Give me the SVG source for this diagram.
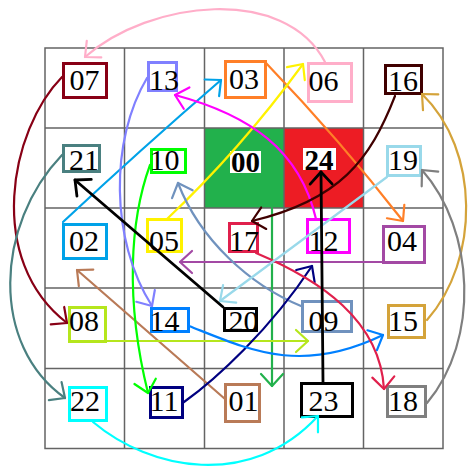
<svg xmlns="http://www.w3.org/2000/svg" width="469" height="468" viewBox="0 0 469 468">
<style>
.grid{stroke:#646464;stroke-width:1.5;fill:none}
.box{fill:none;stroke-width:3}
.lbl{font-family:"Liberation Serif","Times New Roman",serif;font-size:30px;text-anchor:middle;fill:#000}
.bold{font-weight:bold;font-size:29px}
.cn{fill:none;stroke-width:2.2;stroke-linecap:round}
.ah{fill:none;stroke-width:2.2;stroke-linecap:round;stroke-linejoin:round}
.k0{stroke:#22B14C}.k1{stroke:#B97A57}.k2{stroke:#00A2E8}.k3{stroke:#FF7F27}.k4{stroke:#A349A4}
.k5{stroke:#FFF200}.k6{stroke:#FFAEC9}.k7{stroke:#880015}.k8{stroke:#B5E61D}.k9{stroke:#7092BE}
.k10{stroke:#00FF00}.k11{stroke:#000080}.k12{stroke:#FF00FF}.k13{stroke:#8080FF}.k14{stroke:#0080FF}
.k15{stroke:#D4A33A}.k16{stroke:#400000}.k17{stroke:#E0204C}.k18{stroke:#7F7F7F}.k19{stroke:#99D9EA}
.k20{stroke:#000}.k21{stroke:#4A8080}.k22{stroke:#00FFFF}.k23{stroke:#000}
.thick{stroke-width:2.8}
</style>
<defs>
<marker id="a0" markerUnits="userSpaceOnUse" markerWidth="40" markerHeight="40" viewBox="0 0 40 40" refX="20" refY="20" orient="auto"><path class="ah k0" d="M8,9 L20,20 L8,31"/></marker>
<marker id="a1" markerUnits="userSpaceOnUse" markerWidth="40" markerHeight="40" viewBox="0 0 40 40" refX="20" refY="20" orient="auto"><path class="ah k1" d="M8,9 L20,20 L8,31"/></marker>
<marker id="a2" markerUnits="userSpaceOnUse" markerWidth="40" markerHeight="40" viewBox="0 0 40 40" refX="20" refY="20" orient="auto"><path class="ah k2" d="M8,9 L20,20 L8,31"/></marker>
<marker id="a3" markerUnits="userSpaceOnUse" markerWidth="40" markerHeight="40" viewBox="0 0 40 40" refX="20" refY="20" orient="auto"><path class="ah k3" d="M8,9 L20,20 L8,31"/></marker>
<marker id="a4" markerUnits="userSpaceOnUse" markerWidth="40" markerHeight="40" viewBox="0 0 40 40" refX="20" refY="20" orient="auto"><path class="ah k4" d="M8,9 L20,20 L8,31"/></marker>
<marker id="a5" markerUnits="userSpaceOnUse" markerWidth="40" markerHeight="40" viewBox="0 0 40 40" refX="20" refY="20" orient="auto"><path class="ah k5" d="M8,9 L20,20 L8,31"/></marker>
<marker id="a6" markerUnits="userSpaceOnUse" markerWidth="40" markerHeight="40" viewBox="0 0 40 40" refX="20" refY="20" orient="auto"><path class="ah k6" d="M8,9 L20,20 L8,31"/></marker>
<marker id="a7" markerUnits="userSpaceOnUse" markerWidth="40" markerHeight="40" viewBox="0 0 40 40" refX="20" refY="20" orient="auto"><path class="ah k7" d="M8,9 L20,20 L8,31"/></marker>
<marker id="a8" markerUnits="userSpaceOnUse" markerWidth="40" markerHeight="40" viewBox="0 0 40 40" refX="20" refY="20" orient="auto"><path class="ah k8" d="M8,9 L20,20 L8,31"/></marker>
<marker id="a9" markerUnits="userSpaceOnUse" markerWidth="40" markerHeight="40" viewBox="0 0 40 40" refX="20" refY="20" orient="auto"><path class="ah k9" d="M8,9 L20,20 L8,31"/></marker>
<marker id="a10" markerUnits="userSpaceOnUse" markerWidth="40" markerHeight="40" viewBox="0 0 40 40" refX="20" refY="20" orient="auto"><path class="ah k10" d="M8,9 L20,20 L8,31"/></marker>
<marker id="a11" markerUnits="userSpaceOnUse" markerWidth="40" markerHeight="40" viewBox="0 0 40 40" refX="20" refY="20" orient="auto"><path class="ah k11" d="M8,9 L20,20 L8,31"/></marker>
<marker id="a12" markerUnits="userSpaceOnUse" markerWidth="40" markerHeight="40" viewBox="0 0 40 40" refX="20" refY="20" orient="auto"><path class="ah k12" d="M8,9 L20,20 L8,31"/></marker>
<marker id="a13" markerUnits="userSpaceOnUse" markerWidth="40" markerHeight="40" viewBox="0 0 40 40" refX="20" refY="20" orient="auto"><path class="ah k13" d="M8,9 L20,20 L8,31"/></marker>
<marker id="a14" markerUnits="userSpaceOnUse" markerWidth="40" markerHeight="40" viewBox="0 0 40 40" refX="20" refY="20" orient="auto"><path class="ah k14" d="M8,9 L20,20 L8,31"/></marker>
<marker id="a15" markerUnits="userSpaceOnUse" markerWidth="40" markerHeight="40" viewBox="0 0 40 40" refX="20" refY="20" orient="auto"><path class="ah k15" d="M8,9 L20,20 L8,31"/></marker>
<marker id="a16" markerUnits="userSpaceOnUse" markerWidth="40" markerHeight="40" viewBox="0 0 40 40" refX="20" refY="20" orient="auto"><path class="ah k16" d="M8,9 L20,20 L8,31"/></marker>
<marker id="a17" markerUnits="userSpaceOnUse" markerWidth="40" markerHeight="40" viewBox="0 0 40 40" refX="20" refY="20" orient="auto"><path class="ah k17" d="M8,9 L20,20 L8,31"/></marker>
<marker id="a18" markerUnits="userSpaceOnUse" markerWidth="40" markerHeight="40" viewBox="0 0 40 40" refX="20" refY="20" orient="auto"><path class="ah k18" d="M8,9 L20,20 L8,31"/></marker>
<marker id="a19" markerUnits="userSpaceOnUse" markerWidth="40" markerHeight="40" viewBox="0 0 40 40" refX="20" refY="20" orient="auto"><path class="ah k19" d="M8,9 L20,20 L8,31"/></marker>
<marker id="a20" markerUnits="userSpaceOnUse" markerWidth="40" markerHeight="40" viewBox="0 0 40 40" refX="20" refY="20" orient="auto"><path class="ah k20 thick" d="M8,9 L20,20 L8,31"/></marker>
<marker id="a21" markerUnits="userSpaceOnUse" markerWidth="40" markerHeight="40" viewBox="0 0 40 40" refX="20" refY="20" orient="auto"><path class="ah k21" d="M8,9 L20,20 L8,31"/></marker>
<marker id="a22" markerUnits="userSpaceOnUse" markerWidth="40" markerHeight="40" viewBox="0 0 40 40" refX="20" refY="20" orient="auto"><path class="ah k22" d="M8,9 L20,20 L8,31"/></marker>
</defs>
<rect x="0" y="0" width="469" height="468" fill="#fff"/>
<g id="cells">
<rect x="204.5" y="128" width="79.5" height="80" fill="#22B14C"/>
<rect x="284" y="128" width="79.5" height="80" fill="#ED1C24"/>
</g>
<g id="grid" class="grid">
<rect x="45" y="48" width="398" height="400.5"/>
<path d="M124.5,48V448.5M204.5,48V448.5M284,48V448.5M363.5,48V448.5M45,128H443M45,208H443M45,288H443M45,368.5H443"/>
</g>
<g id="n07"><rect class="box k7" x="63.5" y="63.5" width="43" height="34"/><text class="lbl" x="84.5" y="90">07</text></g>
<g id="n13"><rect class="box k13" x="148.5" y="62.5" width="28" height="28"/><text class="lbl" x="164" y="90">13</text></g>
<g id="n03"><rect class="box k3" x="225.5" y="61.5" width="40" height="36"/><text class="lbl" x="244" y="89">03</text></g>
<g id="n06"><rect class="box k6" x="308.5" y="63.5" width="43" height="38"/><text class="lbl" x="323.5" y="90.5">06</text></g>
<g id="n16"><rect class="box k16" x="385.5" y="65.5" width="36" height="28"/><text class="lbl" x="403" y="90.5">16</text></g>
<g id="n21"><rect class="box k21" x="63.5" y="145.5" width="36" height="26"/><text class="lbl" x="84" y="170">21</text></g>
<g id="n10"><rect class="box k10" x="151.5" y="149.5" width="34" height="23"/><text class="lbl" x="164.5" y="170">10</text></g>
<g id="n00"><rect x="230" y="151" width="31" height="22" fill="#fff"/><text class="lbl bold" x="245.5" y="172">00</text></g>
<g id="n24"><rect x="303" y="148" width="33" height="22" fill="#fff"/><text class="lbl bold" x="319" y="170">24</text></g>
<g id="n19"><rect class="box k19" x="387.5" y="146.5" width="33" height="29"/><text class="lbl" x="403" y="170">19</text></g>
<g id="n02"><rect class="box k2" x="63.5" y="224.5" width="43" height="34"/><text class="lbl" x="84" y="250.5">02</text></g>
<g id="n05"><rect class="box k5" x="147.5" y="219.5" width="34" height="32"/><text class="lbl" x="164" y="250.5">05</text></g>
<g id="n17"><rect class="box k17" x="229.5" y="223.5" width="28" height="28"/><text class="lbl" x="244" y="250.5">17</text></g>
<g id="n12"><rect class="box k12" x="307.5" y="219.5" width="42" height="33"/><text class="lbl" x="323.5" y="250.5">12</text></g>
<g id="n04"><rect class="box k4" x="383.5" y="226.5" width="41" height="36"/><text class="lbl" x="402" y="250.5">04</text></g>
<g id="n08"><rect class="box k8" x="69.5" y="307.5" width="36" height="34"/><text class="lbl" x="84" y="330.5">08</text></g>
<g id="n14"><rect class="box k14" x="151.5" y="308.5" width="37" height="23"/><text class="lbl" x="164.5" y="330.5">14</text></g>
<g id="n20"><rect class="box k20" x="224.5" y="308.5" width="32" height="22"/><text class="lbl" x="243.5" y="330.5">20</text></g>
<g id="n09"><rect class="box k9" x="302.5" y="301.5" width="49" height="30"/><text class="lbl" x="323.5" y="330.5">09</text></g>
<g id="n15"><rect class="box k15" x="388.5" y="305.5" width="36" height="32"/><text class="lbl" x="403" y="330.5">15</text></g>
<g id="n22"><rect class="box k22" x="69.5" y="387.5" width="37" height="33"/><text class="lbl" x="85" y="410.5">22</text></g>
<g id="n11"><rect class="box k11" x="150.5" y="387.5" width="32" height="30"/><text class="lbl" x="164" y="410.5">11</text></g>
<g id="n01"><rect class="box k1" x="225.5" y="384.5" width="34" height="37"/><text class="lbl" x="243.5" y="410.5">01</text></g>
<g id="n23"><rect class="box k23" x="301.5" y="383.5" width="51" height="33"/><text class="lbl" x="323.5" y="410.5">23</text></g>
<g id="n18"><rect class="box k18" x="387.5" y="386.5" width="38" height="30"/><text class="lbl" x="403" y="410.5">18</text></g>
<g id="connectors">
<path class="cn k0" d="M272,208 L272,386" marker-end="url(#a0)"/>
<path class="cn k1" d="M225,399 L77,270" marker-end="url(#a1)"/>
<path class="cn k2" d="M63,222 Q140,150 221,80" marker-end="url(#a2)"/>
<path class="cn k3" d="M266,63 Q340,140 403,221" marker-end="url(#a3)"/>
<path class="cn k4" d="M382,262 L180,262" marker-end="url(#a4)"/>
<path class="cn k5" d="M167,219 Q240,150 303,64" marker-end="url(#a5)"/>
<path class="cn k6" d="M325,62 C285,-15 150,0 85,57" marker-end="url(#a6)"/>
<path class="cn k7" d="M62,77 C10,130 -15,260 67,323" marker-end="url(#a7)"/>
<path class="cn k8" d="M107,341 L308,341" marker-end="url(#a8)"/>
<path class="cn k9" d="M301,306 C250,285 200,240 178,183" marker-end="url(#a9)"/>
<path class="cn k10" d="M150,165 C130,220 125,300 148,393" marker-end="url(#a10)"/>
<path class="cn k11" d="M184,402 C215,380 270,330 312,266" marker-end="url(#a11)"/>
<path class="cn k12" d="M316,219 C300,150 250,115 175,95" marker-end="url(#a12)"/>
<path class="cn k13" d="M147,78 C110,140 110,240 152,306" marker-end="url(#a13)"/>
<path class="cn k14" d="M189,326 C250,350 300,375 383,335" marker-end="url(#a14)"/>
<path class="cn k15" d="M427,320 C480,260 480,150 422,94" marker-end="url(#a15)"/>
<path class="cn k16" d="M395,96 C370,160 340,200 252,221" marker-end="url(#a16)"/>
<path class="cn k17" d="M256,253 C320,280 380,320 384,389" marker-end="url(#a17)"/>
<path class="cn k18" d="M427,403 C480,340 475,230 422,170" marker-end="url(#a18)"/>
<path class="cn k19" d="M387,177 L220,301" marker-end="url(#a19)"/>
<path class="cn k20 thick" d="M223,307 L75,180" marker-end="url(#a20)"/>
<path class="cn k21" d="M62,155 C-5,225 -10,345 65,398" marker-end="url(#a21)"/>
<path class="cn k22" d="M93,422 C150,470 250,490 318,416" marker-end="url(#a22)"/>
<path class="cn k23 thick" d="M323,382 L321,172" marker-end="url(#a20)"/>
</g>
</svg>
